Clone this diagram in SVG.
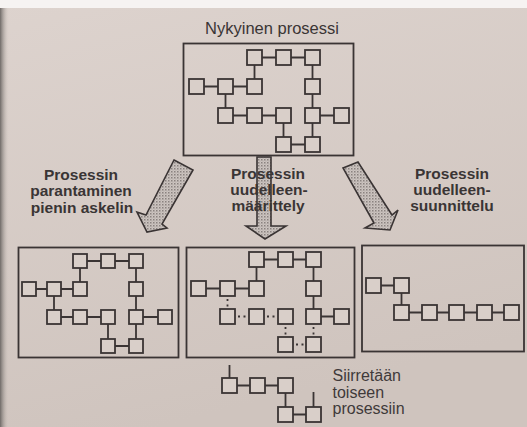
<svg xmlns="http://www.w3.org/2000/svg" xmlns:xlink="http://www.w3.org/1999/xlink" width="527" height="427" viewBox="0 0 527 427">
  <defs>
    <linearGradient id="paper" x1="0" y1="0" x2="0.3" y2="1">
      <stop offset="0" stop-color="#ddd3ce"/>
      <stop offset="1" stop-color="#cfc4be"/>
    </linearGradient>
    <linearGradient id="edge" x1="0" y1="0" x2="1" y2="0">
      <stop offset="0" stop-color="#6f6a67"/>
      <stop offset="1" stop-color="#d6ccc6" stop-opacity="0"/>
    </linearGradient>
    <!-- stippled screen used inside the big arrows -->
    <pattern id="stipple" width="3" height="3" patternUnits="userSpaceOnUse">
      <rect width="3" height="3" fill="#cdc5c1"/>
      <rect width="1.5" height="1.5" fill="#8a827f"/>
      <rect x="1.5" y="1.5" width="1" height="1" fill="#a69e9a"/>
    </pattern>
    <rect id="sq" width="15" height="15"/>
    <rect id="sqs" width="14" height="14"/>
  </defs>
  <style>
    .frame { fill: none; stroke: #3a3434; stroke-width: 1.8; }
    .sq { fill: #d9cfc9; stroke: #3a3434; stroke-width: 1.8; }
    .sq.hit { fill: #1f1b1b; }
    .link { fill: none; stroke: #3a3434; stroke-width: 1.8; }
    .dot { fill: none; stroke: #3a3434; stroke-width: 1.8; stroke-dasharray: 2 3.5; }
    .arrow { fill: url(#stipple); stroke: #3a3434; stroke-width: 1.6; stroke-linejoin: miter; }
    .title { font-family: "Liberation Sans", Arial, sans-serif; font-size: 16.5px; fill: #3a3535; }
    .label { font-family: "Liberation Sans", Arial, sans-serif; font-size: 15.5px; font-weight: bold; fill: #3a3535; text-anchor: middle; }
    .note { font-family: "Liberation Sans", Arial, sans-serif; font-size: 16px; fill: #3f3a3a; }
  </style>

  <!-- page -->
  <rect width="527" height="427" fill="url(#paper)"/>
  <rect width="527" height="8" fill="#f6f3f2"/>
  <rect x="0" y="8" width="9" height="419" fill="url(#edge)"/>

  <!-- current process -->
  <g id="current-process">
    <text class="title" x="272" y="33.5" text-anchor="middle">Nykyinen prosessi</text>
    <rect class="frame" x="183.5" y="43.5" width="170" height="112"/>
    <path class="link" d="M254.5 57.5H312.5V144.5H283.5V115.5H225.5V86.5H196.5M225.5 86.5H254.5V57.5M312.5 115.5H341.5"/>
    <g class="sq">
      <use href="#sq" x="247" y="50"/><use href="#sq" x="276" y="50"/><use href="#sq" x="305" y="50"/>
      <use href="#sq" x="189" y="79"/><use href="#sq" x="218" y="79"/><use href="#sq" x="247" y="79"/><use href="#sq" x="305" y="79"/>
      <use href="#sq" x="218" y="108"/><use href="#sq" x="247" y="108"/><use href="#sq" x="276" y="108"/><use href="#sq" x="305" y="108"/><use href="#sq" x="334" y="108"/>
      <use href="#sq" x="276" y="137"/><use href="#sq" x="305" y="137"/>
    </g>
  </g>

  <!-- big arrows -->
  <g id="connectors">
    <polygon class="arrow" points="174,160 193,170 162,224 167,228 147,232 137,212 146,215"/>
    <polygon class="arrow" points="257,157 271,157 271,226 286,226 265,239 246,226 257,226"/>
    <polygon class="arrow" points="343,168 358,162 392,215 398,210 390,230 365,228 374,223"/>
  </g>

  <!-- branch labels -->
  <g id="label-improvement">
    <text class="label" x="81" y="179.5">Prosessin</text>
    <text class="label" x="81" y="196">parantaminen</text>
    <text class="label" x="82" y="212.5">pienin askelin</text>
  </g>
  <g id="label-redefinition">
    <text class="label" x="268" y="178.5">Prosessin</text>
    <text class="label" x="269" y="195">uudelleen-</text>
    <text class="label" x="268" y="211">määrittely</text>
  </g>
  <g id="label-redesign">
    <text class="label" x="452" y="178.5">Prosessin</text>
    <text class="label" x="452" y="195">uudelleen-</text>
    <text class="label" x="452" y="211">suunnittelu</text>
  </g>

  <!-- small-step improvement -->
  <g id="improvement">
    <rect class="frame" x="18.5" y="247.5" width="160" height="110"/>
    <path class="link" d="M80 261H136V346H108V317H54V289H29M54 289H80V261M136 317H165"/>
    <g class="sq">
      <use href="#sqs" x="73" y="254"/><use href="#sqs" x="101" y="254"/><use href="#sqs" x="129" y="254"/>
      <use href="#sqs" x="22" y="282"/><use href="#sqs" x="47" y="282"/><use href="#sqs" x="73" y="282"/><use href="#sqs" x="129" y="282"/>
      <use href="#sqs" x="47" y="310"/><use href="#sqs" x="73" y="310"/><use href="#sqs" x="101" y="310"/><use class="hit" href="#sqs" x="129" y="310"/><use href="#sqs" x="158" y="310"/>
      <use href="#sqs" x="101" y="339"/><use href="#sqs" x="129" y="339"/>
    </g>
  </g>

  <!-- redefinition -->
  <g id="redefinition">
    <rect class="frame" x="186.5" y="247.5" width="168" height="110"/>
    <path class="link" d="M256.5 259.5H313.5V316.5H341.5M256.5 259.5V288.5H198.5"/>
    <path class="dot" d="M227.5 299V307M238 316.5H246M267 316.5H275M285.5 327V335M313.5 327V335M296 344.5H304"/>
    <g class="sq">
      <use href="#sq" x="249" y="252"/><use href="#sq" x="278" y="252"/><use href="#sq" x="306" y="252"/>
      <use href="#sq" x="191" y="281"/><use href="#sq" x="220" y="281"/><use href="#sq" x="249" y="281"/><use href="#sq" x="306" y="281"/>
      <use href="#sq" x="220" y="309"/><use href="#sq" x="249" y="309"/><use href="#sq" x="278" y="309"/><use href="#sq" x="306" y="309"/><use href="#sq" x="334" y="309"/>
      <use href="#sq" x="278" y="337"/><use href="#sq" x="306" y="337"/>
    </g>
  </g>

  <!-- redesign -->
  <g id="redesign">
    <rect class="frame" x="362" y="245.5" width="162" height="106"/>
    <path class="link" d="M373.5 285.5H401.5V312.5H511.5"/>
    <g class="sq">
      <use href="#sq" x="366" y="278"/><use href="#sq" x="394" y="278"/>
      <use href="#sq" x="394" y="305"/><use href="#sq" x="422" y="305"/><use href="#sq" x="449" y="305"/><use href="#sq" x="477" y="305"/><use href="#sq" x="504" y="305"/>
    </g>
  </g>

  <!-- part moved to another process -->
  <g id="transferred">
    <path class="link" d="M229.5 365V385.5H285.5V414.5H313.5M313.5 392V414.5"/>
    <g class="sq">
      <use href="#sq" x="222" y="378"/><use href="#sq" x="250" y="378"/><use href="#sq" x="278" y="378"/>
      <use href="#sq" x="278" y="407"/><use href="#sq" x="306" y="407"/>
    </g>
    <text class="note" x="332.5" y="381">Siirretään</text>
    <text class="note" x="332.5" y="397.5">toiseen</text>
    <text class="note" x="332.5" y="413.5">prosessiin</text>
  </g>
</svg>
